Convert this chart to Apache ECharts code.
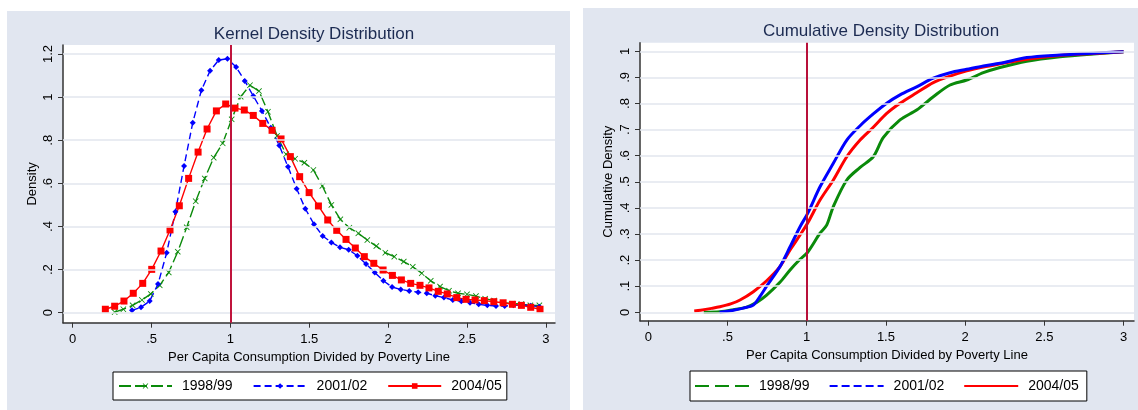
<!DOCTYPE html>
<html><head><meta charset="utf-8">
<script src="https://cdn.jsdelivr.net/npm/echarts@6/dist/echarts.min.js"></script>
<style>html,body{margin:0;padding:0;background:#fff}#c{width:1138px;height:410px}</style>
</head><body><div id="c"></div>
<script>
// ---------- data ----------
const seriesNames = ['1998/99', '2001/02', '2004/05'];
// Kernel density estimates
const kdX98 = [0.266,0.321,0.380,0.439,0.495,0.552,0.609,0.666,0.723,0.780,0.837,0.894,0.951,1.008,1.065,1.124,1.181,1.238,1.296,1.353,1.410,1.469,1.526,1.583,1.640,1.697,1.754,1.811,1.868,1.925,1.982,2.039,2.099,2.156,2.213,2.270,2.329,2.386,2.443,2.500,2.557,2.615,2.672,2.729,2.788,2.845,2.902,2.959];
const kdY98 = [0.003,0.016,0.034,0.059,0.087,0.127,0.187,0.283,0.396,0.517,0.623,0.719,0.786,0.897,1.002,1.055,1.028,0.932,0.820,0.735,0.714,0.696,0.662,0.588,0.500,0.433,0.394,0.368,0.337,0.309,0.278,0.260,0.237,0.213,0.183,0.148,0.121,0.102,0.090,0.085,0.077,0.065,0.056,0.046,0.042,0.040,0.034,0.034];
const kdX01 = [0.376,0.433,0.488,0.541,0.596,0.651,0.706,0.761,0.816,0.871,0.926,0.981,1.036,1.091,1.145,1.200,1.256,1.310,1.365,1.420,1.475,1.530,1.585,1.640,1.695,1.750,1.805,1.860,1.915,1.970,2.025,2.080,2.134,2.190,2.245,2.299,2.354,2.410,2.464,2.519,2.574,2.629,2.684,2.739,2.794,2.849,2.904,2.959];
const kdY01 = [0.011,0.025,0.054,0.133,0.278,0.468,0.680,0.881,1.032,1.122,1.172,1.178,1.140,1.075,1.005,0.936,0.858,0.775,0.677,0.575,0.482,0.410,0.356,0.326,0.303,0.292,0.264,0.226,0.187,0.148,0.119,0.108,0.101,0.095,0.090,0.079,0.070,0.059,0.053,0.046,0.039,0.034,0.031,0.031,0.034,0.036,0.032,0.028];
const kdX04 = [0.207,0.266,0.325,0.384,0.444,0.501,0.560,0.617,0.676,0.735,0.795,0.852,0.911,0.970,1.029,1.088,1.145,1.205,1.264,1.321,1.380,1.439,1.499,1.558,1.617,1.674,1.733,1.792,1.849,1.909,1.968,2.027,2.084,2.143,2.202,2.259,2.318,2.375,2.435,2.494,2.551,2.610,2.670,2.729,2.788,2.845,2.904,2.963];
const kdY04 = [0.016,0.030,0.054,0.090,0.136,0.201,0.286,0.384,0.496,0.623,0.745,0.852,0.936,0.968,0.949,0.940,0.915,0.878,0.846,0.806,0.724,0.631,0.557,0.495,0.430,0.382,0.340,0.300,0.260,0.229,0.198,0.173,0.152,0.136,0.127,0.115,0.099,0.087,0.070,0.062,0.059,0.056,0.051,0.046,0.039,0.034,0.025,0.016];
// Cumulative distributions
const cdX98 = [0.35,0.452,0.537,0.621,0.684,0.747,0.831,0.895,0.958,1.006,1.084,1.126,1.168,1.253,1.337,1.42,1.484,1.589,1.694,1.799,1.905,2.01,2.115,2.22,2.389,2.599,2.809,3.0];
const cdY98 = [0.0,0.002,0.010,0.020,0.038,0.066,0.115,0.162,0.203,0.230,0.303,0.334,0.405,0.507,0.555,0.596,0.670,0.737,0.775,0.826,0.871,0.890,0.918,0.938,0.962,0.979,0.990,0.998];
const cdX01 = [0.45,0.537,0.60,0.663,0.704,0.747,0.831,0.895,0.958,1.006,1.084,1.168,1.253,1.337,1.42,1.505,1.589,1.694,1.799,1.905,2.01,2.115,2.22,2.389,2.599,2.809,3.0];
const cdY01 = [0.0,0.008,0.016,0.028,0.060,0.100,0.175,0.251,0.328,0.379,0.481,0.571,0.660,0.715,0.760,0.801,0.833,0.864,0.897,0.918,0.931,0.944,0.954,0.976,0.986,0.993,0.998];
const cdX04 = [0.29,0.33,0.40,0.452,0.52,0.579,0.663,0.747,0.831,0.895,0.958,1.006,1.084,1.168,1.253,1.337,1.42,1.505,1.589,1.694,1.799,1.905,2.01,2.115,2.22,2.389,2.599,2.809,3.0];
const cdY04 = [0.005,0.008,0.015,0.021,0.032,0.047,0.079,0.121,0.175,0.239,0.296,0.342,0.430,0.507,0.596,0.660,0.709,0.762,0.801,0.841,0.880,0.905,0.925,0.940,0.952,0.970,0.984,0.992,0.998];
// Ticks
const xTicks = [0, 0.5, 1, 1.5, 2, 2.5, 3];
const kdYTicks = [0, 0.2, 0.4, 0.6, 0.8, 1, 1.2];
const cdYTicks = [0, 0.1, 0.2, 0.3, 0.4, 0.5, 0.6, 0.7, 0.8, 0.9, 1];
const povertyLine = 1;

// ---------- styling ----------
const FONT = '"Liberation Sans", Arial, sans-serif';
const C_GREEN = '#0a8a0a', C_BLUE = '#0000ff', C_RED = '#ff0000';
const PANEL = '#e1e6f0', GRIDC = '#e2e6ee', AXC = '#333';
const zip = (xs, ys) => xs.map((x, i) => [x, ys[i]]);
const fmt = v => String(v).replace(/^0\./, '.');
const X_MARK = 'path://M0,1L1,0L5,4L9,0L10,1L6,5L10,9L9,10L5,6L1,10L0,9L4,5Z';
// legend line icons (54 x 2 box)
const ICON_LONGDASH = 'path://M0,0h14v2h-14zM20,0h14v2h-14zM40,0h14v2h-14z';
const ICON_DASH = 'path://M0,0h8v2h-8zM12,0h8v2h-8zM24,0h8v2h-8zM36,0h8v2h-8zM48,0h6v2h-6z';
const ICON_SOLID = 'path://M0,0h54v2h-54z';

function xAxisCfg(gi, min, max) {
  return {
    type: 'value', gridIndex: gi, min: min, max: max,
    name: 'Per Capita Consumption Divided by Poverty Line',
    nameLocation: 'middle', nameGap: 25,
    nameTextStyle: { fontFamily: FONT, fontSize: 13, color: '#000' },
    axisLine: { show: true, onZero: false, lineStyle: { color: AXC, width: 1.5 } },
    axisTick: { show: true, length: 5, customValues: xTicks, lineStyle: { color: AXC, width: 1 } },
    axisLabel: { customValues: xTicks, formatter: fmt, margin: 10, fontFamily: FONT, fontSize: 13, color: '#000' },
    splitLine: { show: false }
  };
}
function yAxisCfg(gi, min, max, ticks, name, gap) {
  return {
    type: 'value', gridIndex: gi, min: min, max: max,
    name: name, nameLocation: 'middle', nameGap: gap,
    nameTextStyle: { fontFamily: FONT, fontSize: 13, color: '#000' },
    axisLine: { show: true, onZero: false, lineStyle: { color: AXC, width: 1.5 } },
    axisTick: { show: true, length: 5, customValues: ticks, lineStyle: { color: AXC, width: 1 } },
    axisLabel: { customValues: ticks, formatter: fmt, rotate: 90, margin: 8, fontFamily: FONT, fontSize: 13, color: '#000' },
    splitLine: { show: false }
  };
}
function guides(gi, yTicks, lineColor) {
  return {
    type: 'line', xAxisIndex: gi, yAxisIndex: gi, data: [], silent: true, z: 1,
    markLine: {
      silent: true, symbol: 'none', label: { show: false }, animation: false,
      data: yTicks.map(v => ({ yAxis: v, lineStyle: { color: GRIDC, width: 1.5, type: 'solid' } }))
        .concat([{ xAxis: povertyLine, lineStyle: { color: lineColor, width: 2, type: 'solid' } }])
    }
  };
}
function kdSeries(name, xs, ys, color, dash, symbol, size) {
  return {
    type: 'line', name: name, xAxisIndex: 0, yAxisIndex: 0, data: zip(xs, ys), z: 3,
    symbol: symbol, symbolSize: size, showSymbol: true,
    lineStyle: { color: color, width: 1.4, type: dash },
    itemStyle: { color: color }, animation: false
  };
}
function cdSeries(name, xs, ys, color) {
  return {
    type: 'line', name: name, xAxisIndex: 1, yAxisIndex: 1, data: zip(xs, ys), z: 3,
    symbol: 'none', smooth: 0.3,
    lineStyle: { color: color, width: 3, type: 'solid' },
    itemStyle: { color: color }, animation: false
  };
}

const chart = echarts.init(document.getElementById('c'), null, { renderer: 'canvas' });
const CDF = ' (CDF)';
chart.setOption({
  animation: false,
  backgroundColor: '#fff',
  graphic: [
    { type: 'rect', z: -10, shape: { x: 7, y: 11, width: 563, height: 400 }, style: { fill: PANEL } },
    { type: 'rect', z: -10, shape: { x: 583, y: 8, width: 555, height: 403 }, style: { fill: PANEL } }
  ],
  title: [
    { text: 'Kernel Density Distribution', left: 309, top: 21, textAlign: 'center',
      textStyle: { fontFamily: FONT, fontSize: 17, fontWeight: 'normal', color: '#1c2b52' } },
    { text: 'Cumulative Density Distribution', left: 876, top: 18, textAlign: 'center',
      textStyle: { fontFamily: FONT, fontSize: 17, fontWeight: 'normal', color: '#1c2b52' } }
  ],
  grid: [
    { left: 63, top: 45, width: 492, height: 277.7, show: true, backgroundColor: '#fff', borderWidth: 0 },
    { left: 640, top: 42.7, width: 494, height: 278, show: true, backgroundColor: '#fff', borderWidth: 0 }
  ],
  xAxis: [ xAxisCfg(0, -0.0615, 3.058), xAxisCfg(1, -0.0524, 3.066) ],
  yAxis: [
    yAxisCfg(0, -0.0464, 1.2417, kdYTicks, 'Density', 24),
    yAxisCfg(1, -0.0322, 1.033, cdYTicks, 'Cumulative Density', 25)
  ],
  legend: [
    { data: seriesNames, left: 113, top: 372, orient: 'horizontal',
      backgroundColor: '#fff', borderColor: '#000', borderWidth: 1, borderRadius: 0,
      padding: [7, 5, 7, 5], itemWidth: 53, itemHeight: 7, itemGap: 20,
      textStyle: { fontFamily: FONT, fontSize: 14, color: '#000', padding: [0, 0, 0, 5] } },
    { data: [
        { name: seriesNames[0] + CDF, icon: ICON_LONGDASH },
        { name: seriesNames[1] + CDF, icon: ICON_DASH },
        { name: seriesNames[2] + CDF, icon: ICON_SOLID }
      ],
      formatter: n => n.replace(CDF, ''),
      left: 690, top: 371, orient: 'horizontal',
      backgroundColor: '#fff', borderColor: '#000', borderWidth: 1, borderRadius: 0,
      padding: [8, 8, 8, 5], itemWidth: 54, itemHeight: 2, itemGap: 20,
      textStyle: { fontFamily: FONT, fontSize: 14, color: '#000', padding: [0, 0, 0, 5] } }
  ],
  series: [
    guides(0, kdYTicks, '#c0143c'),
    guides(1, cdYTicks, '#b8103a'),
    kdSeries(seriesNames[0], kdX98, kdY98, C_GREEN, [12, 4], X_MARK, 6),
    kdSeries(seriesNames[1], kdX01, kdY01, C_BLUE, [7, 4], 'diamond', 6),
    kdSeries(seriesNames[2], kdX04, kdY04, C_RED, 'solid', 'rect', 7),
    cdSeries(seriesNames[0] + CDF, cdX98, cdY98, C_GREEN),
    cdSeries(seriesNames[2] + CDF, cdX04, cdY04, C_RED),
    cdSeries(seriesNames[1] + CDF, cdX01, cdY01, C_BLUE)
  ]
});
</script></body></html>
